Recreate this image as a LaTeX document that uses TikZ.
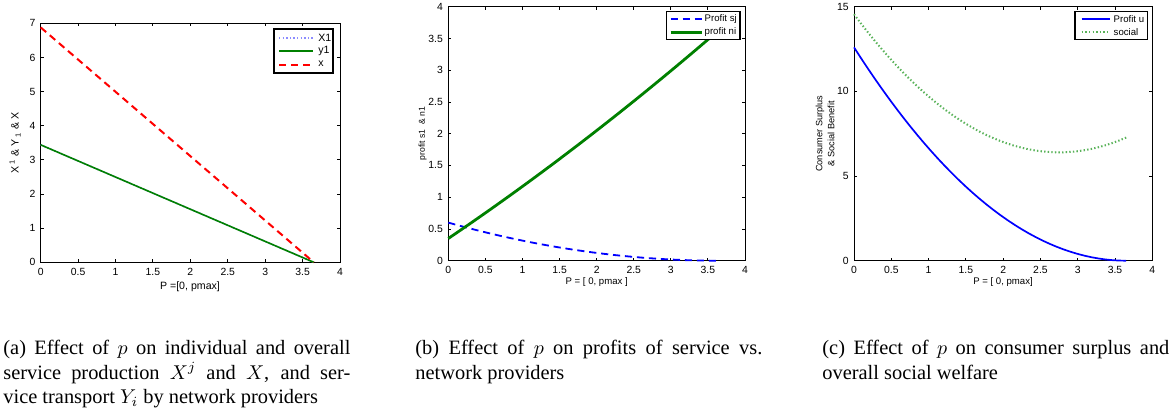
\documentclass[tikz,border=0pt]{standalone}
\usepackage{fontspec}
\setmainfont{Liberation Serif}
\newfontfamily\plotsans{Liberation Sans}
\definecolor{mgreen}{rgb}{0,0.5,0}
\definecolor{lgreen}{rgb}{0.35,0.7,0.35}
\definecolor{lblue}{rgb}{0.55,0.55,1}

\begin{document}
\begin{tikzpicture}[x=0.5pt, y=-0.5pt,
    axbox/.style={line width=0.45pt},
    ticklab/.style={font=\plotsans\fontsize{5.2}{6}\selectfont, inner sep=0pt},
    axlab/.style={font=\plotsans\fontsize{4.8}{6}\selectfont, inner sep=0pt},
    legbox/.style={draw, line width=0.6pt, fill=white},
    legtxt/.style={font=\plotsans\fontsize{4.8}{6}\selectfont, inner sep=0pt, anchor=west},
    dotline/.style={dash pattern=on 0.7pt off 1.1pt},
    dashline/.style={dash pattern=on 3.6pt off 2.4pt},
    caption/.style={text width=173.5pt, align=justify, anchor=north west, inner sep=0pt,
        font=\fontsize{10.2}{12.2}\selectfont}
]
\useasboundingbox (0,0) rectangle (1176,413);

% (a) production
\begin{scope}[shift={(40.7,262.3)}, x=37.41pt, y=17.07pt]
    \draw[axbox] (0,0) rectangle (4,7);
    \foreach \v [count=\k] in {0,0.5,1,1.5,2,2.5,3,3.5,4} {
        \draw[axbox] (\v,0) -- ++(0,1.5pt) (\v,7) -- ++(0,-1.5pt);
        \node[ticklab, yshift=-4.8pt] (xa\k) at (\v,0) {\v};
    }
    \foreach \v [count=\k] in {0,...,7} {
        \draw[axbox] (0,\v) -- ++(1.5pt,0) (4,\v) -- ++(-1.5pt,0);
        \node[ticklab, anchor=east, xshift=-2.5pt] (ya\k) at (0,\v) {\v};
    }
    \draw[lblue, line width=0.8pt, dotline] (0,3.44) -- (3.65,0);
    \draw[mgreen, line width=0.8pt] (0,3.44) -- (3.65,0);
    \draw[red, line width=1pt, dashline] (0,6.88) -- (3.65,0);
\end{scope}
\node[axlab, font=\plotsans\fontsize{5.3}{6}\selectfont, rotate=90] (ylabA) at (15,143)
    {X\,\textsuperscript{1} \& Y\,\textsubscript{1} \& X};
\node[axlab, font=\plotsans\fontsize{5.3}{6}\selectfont] (xlabA) at (190,287) {P =[0, pmax]};
\draw[legbox] (274,29) rectangle (333,73);
\draw[lblue, line width=0.8pt, dotline] (279,37.7) -- (313,37.7);
\node[legtxt, font=\plotsans\fontsize{5.3}{6}\selectfont] (legX1) at (318,37.7) {X1};
\draw[mgreen, line width=0.8pt] (279,50.7) -- (313,50.7);
\node[legtxt, font=\plotsans\fontsize{5.3}{6}\selectfont] (legy1) at (318,50.7) {y1};
\draw[red, line width=1pt, dashline] (279,65) -- (313,65);
\node[legtxt, font=\plotsans\fontsize{5.3}{6}\selectfont] (legx) at (318,64) {x};

% (b) profits
\begin{scope}[shift={(448.3,260.7)}, x=37.09pt, y=31.75pt]
    \draw[axbox] (0,0) rectangle (4,4);
    \foreach \v [count=\k] in {0,0.5,1,1.5,2,2.5,3,3.5,4} {
        \draw[axbox] (\v,0) -- ++(0,1.5pt) (\v,4) -- ++(0,-1.5pt);
        \node[ticklab, yshift=-4.8pt] (xb\k) at (\v,0) {\v};
        \draw[axbox] (0,\v) -- ++(1.5pt,0) (4,\v) -- ++(-1.5pt,0);
        \node[ticklab, anchor=east, xshift=-2.5pt] (yb\k) at (0,\v) {\v};
    }
    \draw[blue, line width=0.9pt, dashline] plot[domain=0:3.65, samples=40] (\x,{0.6*(1-\x/3.65)^2});
    \draw[mgreen, line width=1.4pt] plot[domain=0:3.65, samples=40] (\x,{0.35+0.79*\x+0.03*\x*\x});
\end{scope}
\node[axlab, font=\plotsans\fontsize{4.3}{5}\selectfont, rotate=90] (ylabB) at (422.7,133.7) {profit s1 \ \& n1};
\node[axlab] (xlabB) at (596.7,282) {P = [ 0, pmax ]};
\draw[legbox] (666.7,11.7) rectangle (740,39.3);
\draw[blue, line width=0.9pt, dashline] (670.7,19.3) -- (701.7,19.3);
\node[legtxt] (legsj) at (704.3,19.3) {Profit sj};
\draw[mgreen, line width=1.4pt] (670.7,32.3) -- (701.7,32.3);
\node[legtxt] (legni) at (704.3,32.3) {profit ni};

% (c) welfare
\begin{scope}[shift={(854,260.7)}, x=37.29pt, y=8.467pt]
    \draw[axbox] (0,0) rectangle (4,15);
    \foreach \v [count=\k] in {0,0.5,1,1.5,2,2.5,3,3.5,4} {
        \draw[axbox] (\v,0) -- ++(0,1.5pt) (\v,15) -- ++(0,-1.5pt);
        \node[ticklab, yshift=-4.8pt] (xc\k) at (\v,0) {\v};
    }
    \foreach \v [count=\k] in {0,5,10,15} {
        \draw[axbox] (0,\v) -- ++(1.5pt,0) (4,\v) -- ++(-1.5pt,0);
        \node[ticklab, anchor=east, xshift=-2.5pt] (yc\k) at (0,\v) {\v};
    }
    \draw[blue, line width=0.85pt] plot[domain=0:3.65, samples=40] (\x,{12.6*(1-\x/3.65)^2});
    \draw[lgreen, line width=1pt, dotline] plot[domain=0:3.65, samples=40] (\x,{6.4+1.078*(\x-2.75)^2});
\end{scope}
\node[axlab, font=\plotsans\fontsize{4.6}{6}\selectfont, rotate=90, align=center] (ylabC) at (825,133.7)
    {Consumer Surplus\\\& Social Benefit};
\node[axlab] (xlabC) at (1003,282) {P = [ 0, pmax]};
\draw[legbox] (1075,11.7) rectangle (1147.7,39.3);
\draw[blue, line width=1pt] (1081.7,19.3) -- (1110,19.3);
\node[legtxt] (legu) at (1113.3,19.3) {Profit u};
\draw[lgreen, line width=1pt, dotline] (1081.7,31.7) -- (1110,31.7);
\node[legtxt] (legsoc) at (1113.3,31.7) {social};

\node[caption] (capA) at (3,340) {(a) Effect of $p$ on individual and overall\linebreak
    service production $X^j$ and $X$, and ser-\linebreak vice transport $Y_i$ by network providers};
\node[caption] (capB) at (415,340) {(b) Effect of $p$ on profits of service vs.\linebreak network providers};
\node[caption] (capC) at (822,340) {(c) Effect of $p$ on consumer surplus and\linebreak overall social welfare};

\end{tikzpicture}
\end{document}
